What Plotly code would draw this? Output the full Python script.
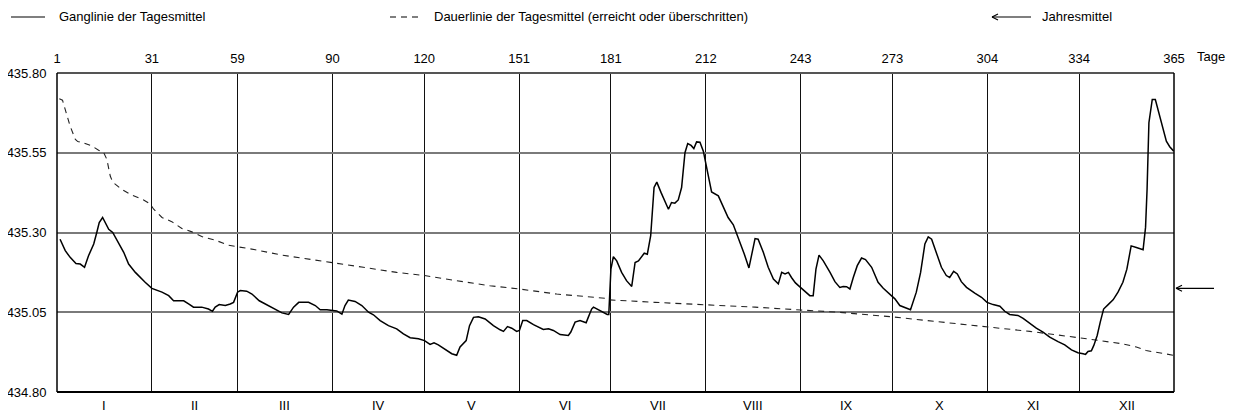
import plotly.graph_objects as go

# ---------------- data ----------------
day_ticks = [0, 31, 59, 90, 120, 151, 181, 212, 243, 273, 304, 334, 365]
day_labels = ["1", "31", "59", "90", "120", "151", "181", "212", "243", "273", "304", "334", "365"]
month_labels = ["I", "II", "III", "IV", "V", "VI", "VII", "VIII", "IX", "X", "XI", "XII"]
level_ticks = [434.80, 435.05, 435.30, 435.55, 435.80]

gang_day = [1, 2.7, 4.3, 6.2, 7.6, 9.0, 10.3, 12.0, 13.0, 13.8, 14.9, 15.8, 16.9, 18.2, 20.1, 21.8,
            23.4, 25.6, 28.8, 31.0, 34.3, 36.5, 38.1, 41.4, 43.0, 44.6, 47.3, 49.5, 50.8, 51.7, 53.0,
            55.0, 56.6, 57.7, 59.0, 59.9, 62.0, 63.7, 66.1, 69.1, 71.3, 73.5, 75.7, 77.3, 79.0, 82.2,
            84.4, 86.0, 88.2, 90.4, 91.4, 93.1, 94.1, 95.2, 97.4, 99.6, 101.8, 103.4, 105.6, 108.3,
            111.0, 113.2, 115.4, 118.1, 120.1, 121.9, 123.2, 124.6, 126.8, 129.0, 130.6, 131.7, 133.7,
            134.8, 136.1, 137.7, 139.9, 142.6, 144.8, 145.9, 147.2, 148.6, 150.2, 151.1, 152.2, 153.5,
            155.7, 157.8, 158.9, 160.6, 162.2, 164.4, 167.1, 167.9, 169.3, 170.9, 172.9, 173.6, 174.7,
            175.3, 177.4, 179.8, 180.3, 181.0, 181.8, 182.9, 184.5, 186.1, 187.8, 188.9, 190.0, 191.9,
            192.9, 194.0, 195.1, 196.0, 197.4, 198.7, 199.8, 200.8, 201.9, 203.0, 204.1, 205.2, 206.1,
            207.2, 208.1, 209.0, 210.1, 211.2, 212.3, 213.9, 216.1, 217.7, 219.3, 221.0, 222.6, 224.6,
            226.1, 227.0, 228.1, 229.1, 230.8, 232.4, 234.1, 235.7, 236.8, 237.9, 239.0, 240.0, 241.3,
            243.3, 244.9, 246.0, 247.1, 248.0, 249.0, 250.4, 252.6, 254.2, 255.8, 256.9, 258.0, 259.1,
            260.2, 261.5, 262.9, 264.2, 266.2, 268.3, 270.0, 271.6, 273.8, 275.4, 277.0, 278.9, 280.8,
            282.2, 283.6, 284.7, 285.8, 287.4, 289.0, 290.6, 291.7, 293.0, 294.2, 295.5, 297.2, 299.9,
            302.1, 303.9, 305.9, 308.1, 309.7, 311.3, 314.0, 315.7, 317.9, 320.0, 322.2, 324.4, 327.1,
            329.3, 331.5, 333.6, 335.3, 336.1, 336.9, 338.0, 338.8, 339.9, 340.9, 342.0, 343.4, 345.1,
            346.7, 348.3, 349.6, 351.0, 352.7, 354.9, 355.7, 356.2, 356.8, 357.9, 358.9, 359.8, 361.2,
            362.5, 363.6, 364.9]
gang_val = [435.279, 435.243, 435.222, 435.203, 435.201, 435.191, 435.227, 435.264, 435.300, 435.331,
            435.347, 435.331, 435.310, 435.300, 435.269, 435.238, 435.201, 435.175, 435.144, 435.125,
            435.113, 435.102, 435.086, 435.086, 435.076, 435.066, 435.066, 435.060, 435.053, 435.066,
            435.074, 435.071, 435.076, 435.081, 435.113, 435.118, 435.116, 435.107, 435.086, 435.071,
            435.060, 435.048, 435.043, 435.066, 435.081, 435.081, 435.071, 435.058, 435.058, 435.054,
            435.054, 435.044, 435.071, 435.088, 435.084, 435.071, 435.050, 435.042, 435.024, 435.008,
            434.998, 434.982, 434.970, 434.967, 434.961, 434.949, 434.954, 434.948, 434.935, 434.920,
            434.915, 434.941, 434.961, 435.008, 435.034, 435.036, 435.029, 435.008, 434.995, 434.990,
            435.005, 435.000, 434.990, 434.993, 435.024, 435.024, 435.011, 435.000, 434.996, 434.998,
            434.993, 434.980, 434.977, 434.988, 435.019, 435.024, 435.017, 435.034, 435.060, 435.066,
            435.055, 435.043, 435.043, 435.185, 435.224, 435.211, 435.175, 435.149, 435.131, 435.206,
            435.211, 435.235, 435.232, 435.290, 435.441, 435.458, 435.425, 435.399, 435.373, 435.394,
            435.392, 435.402, 435.441, 435.550, 435.579, 435.573, 435.563, 435.584, 435.583, 435.555,
            435.498, 435.427, 435.415, 435.378, 435.347, 435.324, 435.284, 435.232, 435.189, 435.227,
            435.281, 435.279, 435.238, 435.191, 435.154, 435.139, 435.175, 435.170, 435.175, 435.159,
            435.142, 435.125, 435.113, 435.102, 435.102, 435.185, 435.229, 435.211, 435.175, 435.146,
            435.128, 435.131, 435.130, 435.123, 435.159, 435.196, 435.220, 435.215, 435.191, 435.144,
            435.125, 435.110, 435.092, 435.071, 435.064, 435.058, 435.113, 435.175, 435.264, 435.286,
            435.279, 435.238, 435.191, 435.165, 435.159, 435.178, 435.170, 435.146, 435.128, 435.110,
            435.097, 435.081, 435.074, 435.069, 435.053, 435.043, 435.040, 435.031, 435.014, 435.000,
            434.988, 434.972, 434.958, 434.948, 434.932, 434.923, 434.920, 434.918, 434.927, 434.929,
            434.946, 434.977, 435.019, 435.060, 435.073, 435.089, 435.113, 435.144, 435.185, 435.258,
            435.253, 435.246, 435.316, 435.435, 435.644, 435.717, 435.717, 435.685, 435.633, 435.586,
            435.569, 435.555]

dauer_day = [0.75, 1.8, 2.7, 4.3, 6.0, 6.8, 8.2, 11.4, 13.6, 15.2, 16.3, 17.4, 18.2, 21.2, 23.9, 28.3,
             30.5, 31.6, 34.3, 37.5, 40.8, 44.1, 47.3, 51.7, 56.1, 59.0, 64.8, 73.5, 82.2, 90.4, 100.1,
             111.0, 120.1, 130.6, 141.5, 151.1, 163.3, 179.1, 180.2, 195.4, 212.0, 228.1, 243.1, 255.3,
             272.4, 288.5, 303.9, 317.9, 334.0, 348.3, 352.7, 355.9, 364.9]
dauer_val = [435.719, 435.715, 435.685, 435.633, 435.592, 435.585, 435.583, 435.571, 435.558, 435.552,
             435.529, 435.477, 435.458, 435.435, 435.420, 435.402, 435.389, 435.373, 435.347, 435.334,
             435.3125, 435.302, 435.2875, 435.276, 435.260, 435.256, 435.246, 435.229, 435.217, 435.206,
             435.191, 435.175, 435.165, 435.149, 435.133, 435.123, 435.107, 435.094, 435.089, 435.081,
             435.074, 435.066, 435.057, 435.050, 435.036, 435.019, 435.003, 434.990, 434.970, 434.951,
             434.941, 434.930, 434.915]

jahresmittel = 435.125

# ---------------- layout geometry ----------------
# The page body has an 8px margin, so the figure is drawn 8px down and right.
OFF = 8
W, H = 1242 - OFF, 414 - OFF
PL, PR, PT, PB = 57, 1174, 73, 392          # plot area in screen pixels
ML, MT = PL - OFF, PT - OFF
MR = W - (PR - OFF)
MB = H - (PB - OFF)
PW = PR - PL
PH = PB - PT
FONT = "Liberation Sans, Arial, sans-serif"


def px(xp):
    return (xp - PL) / PW


def py(yp):
    return (PB - yp) / PH


fig = go.Figure()

fig.add_trace(go.Scatter(x=dauer_day, y=dauer_val, mode="lines",
                         line=dict(color="#222222", width=1.1, dash="6px,5px"),
                         hoverinfo="skip", showlegend=False))
fig.add_trace(go.Scatter(x=gang_day, y=gang_val, mode="lines",
                         line=dict(color="#000000", width=1.5),
                         hoverinfo="skip", showlegend=False))

shapes = []
# borders
shapes.append(dict(type="line", xref="paper", yref="paper", x0=0, x1=1, y0=1, y1=1,
                   line=dict(color="#555555", width=2)))
shapes.append(dict(type="line", xref="paper", yref="paper", x0=0, x1=1, y0=0, y1=0,
                   line=dict(color="#000000", width=2)))
shapes.append(dict(type="line", xref="paper", yref="paper", x0=0, x1=0, y0=0, y1=1,
                   line=dict(color="#000000", width=1.5)))
shapes.append(dict(type="line", xref="paper", yref="paper", x0=1, x1=1, y0=0, y1=1,
                   line=dict(color="#000000", width=1.5)))

# legend samples
ly = py(17)
shapes.append(dict(type="line", xref="paper", yref="paper", x0=px(11), x1=px(45), y0=ly, y1=ly,
                   line=dict(color="#000000", width=1.2)))
shapes.append(dict(type="line", xref="paper", yref="paper", x0=px(390), x1=px(422), y0=ly, y1=ly,
                   line=dict(color="#000000", width=1.1, dash="6px,5px")))
shapes.append(dict(type="line", xref="paper", yref="paper", x0=px(992), x1=px(1031), y0=ly, y1=ly,
                   line=dict(color="#000000", width=1.1)))
for s in (-1, 1):
    shapes.append(dict(type="line", xref="paper", yref="paper", xsizemode="pixel", ysizemode="pixel",
                       xanchor=px(992), yanchor=ly, x0=0, x1=6, y0=0, y1=3 * s,
                       line=dict(color="#000000", width=1.1)))

# Jahresmittel arrow at right edge
ax0 = px(1176)
shapes.append(dict(type="line", xref="paper", yref="y", x0=ax0, x1=px(1214),
                   y0=jahresmittel, y1=jahresmittel, line=dict(color="#000000", width=1.1)))
for s in (-1, 1):
    shapes.append(dict(type="line", xref="paper", yref="y", xsizemode="pixel", ysizemode="pixel",
                       xanchor=ax0, yanchor=jahresmittel, x0=0, x1=6, y0=0, y1=3 * s,
                       line=dict(color="#000000", width=1.1)))

annotations = []
tf = dict(family=FONT, size=13, color="#000000")
annotations.append(dict(text="Ganglinie der Tagesmittel", xref="paper", yref="paper", x=px(57), y=ly,
                        xanchor="left", yanchor="middle", showarrow=False, font=tf))
annotations.append(dict(text="Dauerlinie der Tagesmittel (erreicht oder überschritten)", xref="paper",
                        yref="paper", x=px(432), y=ly, xanchor="left", yanchor="middle",
                        showarrow=False, font=tf))
annotations.append(dict(text="Jahresmittel", xref="paper", yref="paper", x=px(1040), y=ly,
                        xanchor="left", yanchor="middle", showarrow=False, font=tf))
annotations.append(dict(text="Tage", xref="paper", yref="paper", x=px(1195), y=py(57),
                        xanchor="left", yanchor="middle", showarrow=False, font=tf))
for i, m in enumerate(month_labels):
    c = (day_ticks[i] + day_ticks[i + 1]) / 2
    annotations.append(dict(text=m, xref="x", yref="paper", x=c, y=py(405), xanchor="center",
                            yanchor="middle", showarrow=False, font=tf))

fig.update_layout(
    width=W, height=H,
    margin=dict(l=ML, r=MR, t=MT, b=MB, pad=0, autoexpand=False),
    paper_bgcolor="white", plot_bgcolor="white",
    font=tf,
    showlegend=False,
    xaxis=dict(range=[0, 365], side="top", tickvals=day_ticks, ticktext=day_labels,
               showgrid=True, gridcolor="#111111", gridwidth=1, zeroline=False, showline=False,
               ticks="outside", ticklen=4, tickcolor="rgba(0,0,0,0)", tickfont=tf,
               automargin=False),
    yaxis=dict(range=[434.80, 435.80], tickvals=level_ticks,
               ticktext=["%.2f" % v for v in level_ticks],
               showgrid=True, gridcolor="#7a7a7a", gridwidth=1.6, zeroline=False, showline=False,
               ticks="outside", ticklen=7, tickcolor="rgba(0,0,0,0)", tickfont=tf,
               automargin=False),
    shapes=shapes,
    annotations=annotations,
)

fig.write_html("out.html")
